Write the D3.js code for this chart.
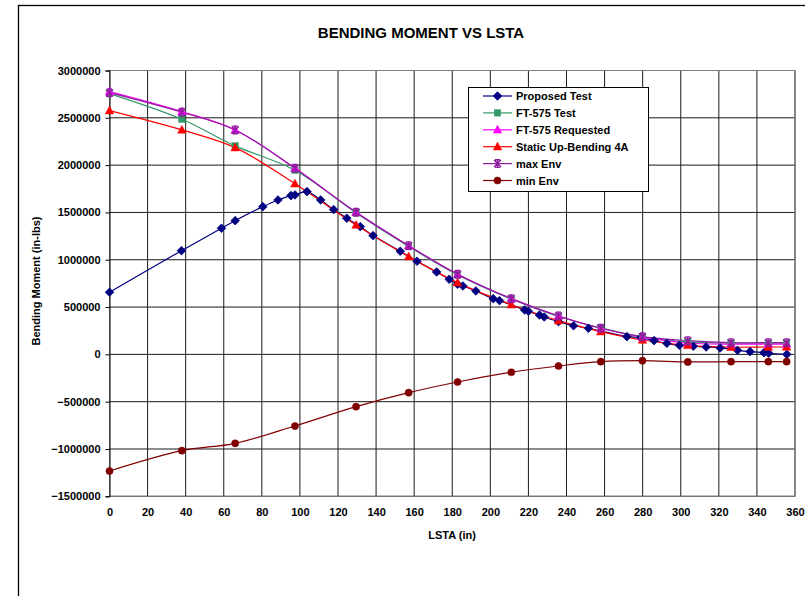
<!DOCTYPE html>
<html><head><meta charset="utf-8">
<script src="https://cdn.jsdelivr.net/npm/d3@7"></script>
<style>
html,body{margin:0;padding:0;background:#fff;}
svg{display:block;}
text{font-family:"Liberation Sans",Arial,sans-serif;font-weight:bold;fill:#000;}
</style></head>
<body>
<script>
// ---- data ----
const title = "BENDING MOMENT VS LSTA";
const xTitle = "LSTA (in)";
const yTitle = "Bending Moment (in-lbs)";
const xTicks = [0,20,40,60,80,100,120,140,160,180,200,220,240,260,280,300,320,340,360];
const yTicks = [-1500000,-1000000,-500000,0,500000,1000000,1500000,2000000,2500000,3000000];

const proposedX = [0,37.8,58.8,66,80.5,88.5,95.3,97.4,103.7,110.9,117.7,124.6,131.7,138.4,152.7,161.5,171.8,178.4,182.8,185.6,192.4,201.5,204.8,218,220,225.8,228.3,235.8,243.7,251.5,271.7,279,286,292.7,299.3,306.6,313.3,320.7,329.8,336.4,343.7,346.2,355.7];
const proposedY = [656000,1096000,1333000,1413000,1561000,1632000,1678000,1685000,1720000,1632000,1530000,1439000,1350000,1255000,1090000,984000,871000,794000,741000,723000,670000,589000,568000,470000,455000,416000,395000,346000,303000,276000,187000,177000,145000,117000,96000,86000,78000,68000,43000,29000,18000,12000,0];

const envX = [0,38,66,97.4,129.5,157.1,182.8,211,235.8,258,279.9,303.7,326.4,346,355.6];
const ftTestY = [2756000,2485000,2203000,1946000,1495000,1140000,840000,585000,400000,280000,185000,132000,118000,118000,118000];
const ftReqY = [2777000,2566000,2372000,1967000,1502000,1149000,847000,589000,406000,276000,182000,120000,108000,108000,108000];
const staticY = [2576000,2372000,2185000,1804000,1368000,1033000,758000,525000,356000,240000,152000,96000,76000,78000,78000];
const maxEnvY = [2766000,2559000,2372000,1967000,1502000,1149000,847000,589000,406000,276000,187000,145000,124000,124000,124000];
const minEnvY = [-1233000,-1018000,-940000,-757000,-553000,-405000,-292000,-189000,-123000,-77000,-67000,-80000,-77000,-77000,-77000];

const seriesNames = ["Proposed Test","FT-575 Test","FT-575 Requested","Static Up-Bending 4A","max Env","min Env"];
const seriesColors = ["#000080","#339966","#FF00FF","#FF0000","#8E1D9E","#800000"];
const seriesMarkers = ["diamond","square","triangle","triangle","star","circle"];

// ---- layout ----
const W = 805, H = 596;
const svg = d3.select("body").append("svg").attr("width",W).attr("height",H);

svg.append("rect").attr("x",18.5).attr("y",5.5).attr("width",800).attr("height",600)
  .attr("fill","#fff").attr("stroke","#000").attr("stroke-width",1.3);

const x = d3.scaleLinear().domain([0,360]).range([109.5,795]);
const y = d3.scaleLinear().domain([-1500000,3000000]).range([496.3,70.5]);

// gridlines
const g = svg.append("g");
g.selectAll(".vg").data(xTicks).join("line")
  .attr("x1",d=>x(d)).attr("x2",d=>x(d)).attr("y1",y(3000000)).attr("y2",y(-1500000))
  .attr("stroke","#1a1a1a").attr("stroke-width",1);
g.selectAll(".hg").data(yTicks).join("line")
  .attr("x1",x(0)).attr("x2",x(360)).attr("y1",d=>y(d)).attr("y2",d=>y(d))
  .attr("stroke","#1a1a1a").attr("stroke-width",1);
// plot border
svg.append("rect").attr("x",x(0)).attr("y",y(3000000)).attr("width",x(360)-x(0)).attr("height",y(-1500000)-y(3000000))
  .attr("fill","none").attr("stroke","#808080").attr("stroke-width",1);

// axes
const yAxis = d3.axisLeft(y).tickValues(yTicks).tickSize(4).tickPadding(5).tickFormat(d3.format("d"));
const ya = svg.append("g").attr("transform",`translate(${x(0)},0)`).call(yAxis);
ya.select(".domain").attr("stroke","#000");
ya.selectAll("line").attr("stroke","#000");
ya.selectAll("text").style("font-size","11px").style("font-weight","bold").attr("fill","#000");

const xAxis = d3.axisBottom(x).tickValues(xTicks).tickSize(0).tickPadding(12).tickFormat(d3.format("d"));
const xa = svg.append("g").attr("transform",`translate(0,${y(-1500000)})`).call(xAxis);
xa.select(".domain").remove();
xa.selectAll("text").style("font-size","11px").style("font-weight","bold").attr("fill","#000");

// titles
svg.append("text").attr("x",421).attr("y",38).attr("text-anchor","middle").style("font-size","15px").text(title);
svg.append("text").attr("x",452).attr("y",539).attr("text-anchor","middle").style("font-size","11px").text(xTitle);
svg.append("text").attr("transform","translate(40,281) rotate(-90)").attr("text-anchor","middle").style("font-size","11px").text(yTitle);

// markers
function drawMarker(sel, type, color){
  if(type==="diamond"){
    sel.append("path").attr("d","M0,-4.3L4.3,0L0,4.3L-4.3,0Z").attr("fill",color).attr("stroke",color).attr("stroke-width",0.8);
  } else if(type==="square"){
    sel.append("rect").attr("x",-3.2).attr("y",-3.2).attr("width",6.4).attr("height",6.4).attr("fill",color).attr("stroke",color).attr("stroke-width",0.5);
  } else if(type==="triangle"){
    sel.append("path").attr("d","M0,-4.5L4.3,3.3L-4.3,3.3Z").attr("fill",color).attr("stroke",color).attr("stroke-width",0.5);
  } else if(type==="star"){
    sel.append("path").attr("d","M-3.5,-3.5L3.5,3.5M-3.5,3.5L3.5,-3.5M0,-4.2L0,4.2M-2.5,-3.8L2.5,-3.8M-2.5,3.8L2.5,3.8").attr("fill","none").attr("stroke",color).attr("stroke-width",1.4);
  } else if(type==="circle"){
    sel.append("circle").attr("r",3.6).attr("fill",color).attr("stroke",color).attr("stroke-width",0.5);
  }
}

const allSeries = [
  {xs:proposedX, ys:proposedY},
  {xs:envX, ys:ftTestY},
  {xs:envX, ys:ftReqY},
  {xs:envX, ys:staticY},
  {xs:envX, ys:maxEnvY},
  {xs:envX, ys:minEnvY}
];

const line = d3.line().x(d=>x(d[0])).y(d=>y(d[1])).curve(d3.curveCatmullRom.alpha(0.5));
const plot = svg.append("g");
allSeries.forEach((s,i)=>{
  const pts = s.xs.map((v,k)=>[v,s.ys[k]]);
  plot.append("path").datum(pts).attr("d",line).attr("fill","none")
    .attr("stroke",seriesColors[i]).attr("stroke-width",1.2);
});
allSeries.forEach((s,i)=>{
  const pts = s.xs.map((v,k)=>[v,s.ys[k]]);
  pts.forEach(p=>{
    const m = plot.append("g").attr("transform",`translate(${x(p[0])},${y(p[1])})`);
    drawMarker(m, seriesMarkers[i], seriesColors[i]);
  });
});

// legend
const lg = svg.append("g");
lg.append("rect").attr("x",468.5).attr("y",87.5).attr("width",180).attr("height",104)
  .attr("fill","#fff").attr("stroke","#000").attr("stroke-width",1);
seriesNames.forEach((n,i)=>{
  const yy = 96 + i*16.9;
  lg.append("line").attr("x1",483).attr("x2",512).attr("y1",yy).attr("y2",yy)
    .attr("stroke",seriesColors[i]).attr("stroke-width",1.2);
  const m = lg.append("g").attr("transform",`translate(497.5,${yy})`);
  drawMarker(m, seriesMarkers[i], seriesColors[i]);
  lg.append("text").attr("x",516).attr("y",yy+4).style("font-size","11px").text(n);
});
</script>
</body></html>
